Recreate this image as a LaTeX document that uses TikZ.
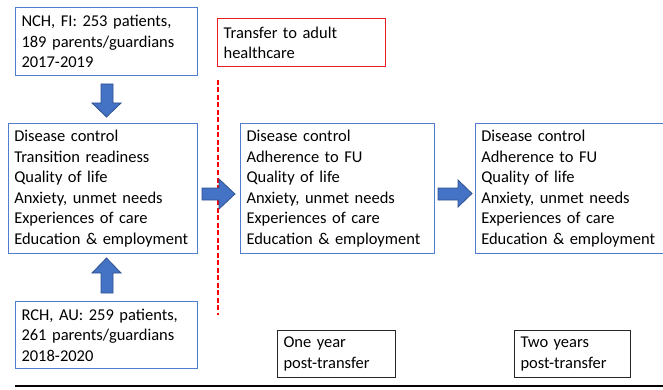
\documentclass[tikz,border=0pt]{standalone}
\usepackage{fontspec}
\setmainfont{Carlito}
\hyphenpenalty=10000
\exhyphenpenalty=10000
\definecolor{boxblue}{RGB}{80,125,205}
\definecolor{arrfill}{RGB}{68,114,196}
\definecolor{arrdraw}{RGB}{47,82,143}
\definecolor{boxred}{RGB}{232,30,36}
\definecolor{dashred}{RGB}{255,0,0}
\begin{document}
\begin{tikzpicture}[x=1pt,y=-1pt,
  txt/.style={anchor=north west, inner xsep=6pt, inner ysep=0pt, align=left,
    font=\fontsize{16.5}{20.5}\selectfont, line width=1pt},
  bluebox/.style={txt, draw=boxblue},
  redbox/.style={txt, draw=boxred, line width=1.2pt},
  blackbox/.style={txt, draw=black!85},
  blockarrow/.style={fill=arrfill, draw=arrdraw, line width=0.8pt, line join=miter},
  transferline/.style={draw=dashred, line width=2pt, dash pattern=on 5pt off 2.5pt}]
\useasboundingbox (0,0) rectangle (663,390);
% boxes
\node[bluebox, minimum width=182pt, minimum height=68pt, text width=170pt] (nch) at (15,7)
  {NCH, FI: 253 patients,\\189 parents/guardians\\2017-2019};
\node[redbox, minimum width=168pt, minimum height=48pt, text width=156pt] (transfer) at (217,18)
  {Transfer to adult\\healthcare};
\node[bluebox, minimum width=189pt, minimum height=130pt, text width=177.5pt, inner xsep=5.75pt] (base) at (8,123)
  {Disease control\\Transition readiness\\Quality of life\\Anxiety, unmet needs\\Experiences of care\\Education \& employment};
\node[bluebox, minimum width=194pt, minimum height=130pt, text width=182pt] (one) at (240,123)
  {Disease control\\Adherence to FU\\Quality of life\\Anxiety, unmet needs\\Experiences of care\\Education \& employment};
\node[bluebox, minimum width=187.5pt, minimum height=130pt, text width=176pt, inner xsep=5.75pt] (two) at (475,123)
  {Disease control\\Adherence to FU\\Quality of life\\Anxiety, unmet needs\\Experiences of care\\Education \& employment};
\node[bluebox, minimum width=182pt, minimum height=67pt, text width=170pt] (rch) at (15,301)
  {RCH, AU: 259 patients,\\261 parents/guardians\\2018-2020};
\node[blackbox, minimum width=118pt, minimum height=47pt, text width=106pt] (oneyr) at (277,330)
  {One year\\post-transfer};
\node[blackbox, minimum width=116pt, minimum height=47pt, text width=104pt] (twoyr) at (514,330)
  {Two years\\post-transfer};
% dashed transfer line
\coordinate (dtop) at (217.5,80);
\coordinate (dbot) at (217.5,315);
\draw[transferline] (dtop) -- (dbot);
% block arrows
\draw[blockarrow] (101,84) -- (113,84) -- (113,103) -- (121,103) -- (106.5,117) -- (92,103) -- (101,103) -- cycle;
\draw[blockarrow] (101,293) -- (113,293) -- (113,273) -- (121,273) -- (106.5,258) -- (92,273) -- (101,273) -- cycle;
\draw[blockarrow] (202,188) -- (219,188) -- (219,179) -- (235,194) -- (219,209) -- (219,200) -- (202,200) -- cycle;
\draw[blockarrow] (438,188) -- (458,188) -- (458,180) -- (472,193.5) -- (458,207) -- (458,200) -- (438,200) -- cycle;
% time axis
\coordinate (tl) at (15,386);
\coordinate (tr) at (663,386);
\draw[line width=1.8pt] (tl) -- (tr);
\end{tikzpicture}
\end{document}
